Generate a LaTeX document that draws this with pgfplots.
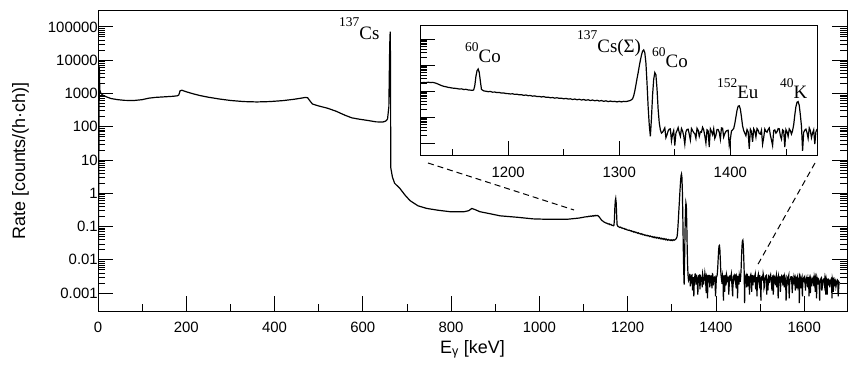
\documentclass[border=0pt]{standalone}
\usepackage{fontspec}
\setmainfont{Liberation Sans}
\newfontfamily\serif{Liberation Serif}
\usepackage{pgfplots}
\usepackage{pgfplotstable}
\pgfplotsset{compat=1.18}

\pgfplotstableread{
E v
0 0.0001
3 6500
4 1300
6 1050
10 900
20 780
30 700
45 650
60 620
80 610
100 650
115 720
130 760
150 790
170 820
180 850
183 900
186 1200
190 1250
200 1120
215 980
230 870
250 770
275 680
300 615
330 570
360 555
390 570
420 610
445 670
460 720
470 760
475 740
480 600
486 480
500 420
520 360
540 290
560 220
575 185
590 170
610 155
630 140
645 138
652 148
656 170
659 400
660 4000
661 30000
662 72000
662.8 8000
663.2 6
667 3.1
672 2.0
684 1.4
695 0.9
707 0.6
725 0.42
745 0.35
770 0.31
797 0.28
830 0.28
840 0.30
847 0.35
855 0.32
865 0.28
890 0.24
911 0.21
950 0.19
986 0.17
1020 0.165
1062 0.165
1090 0.18
1104 0.195
1110 0.198
1112 0.204
1114 0.201
1116 0.207
1118 0.203
1120 0.211
1122 0.206
1124 0.214
1126 0.209
1128 0.217
1130 0.212
1132 0.215
1134 0.205
1136 0.192
1138 0.176
1140 0.162
1142 0.151
1144 0.146
1146 0.138
1148 0.134
1150 0.129
1152 0.127
1154 0.124
1156 0.119
1158 0.121
1160 0.114
1162 0.116
1164 0.110
1166 0.108
1168 0.106
1169 0.110
1170 0.16
1171 0.36
1172 0.60
1173 0.70
1174 0.52
1175 0.24
1176 0.115
1178 0.101
1180 0.098
1182 0.094
1184 0.096
1186 0.090
1188 0.091
1190 0.087
1192 0.088
1194 0.083
1196 0.084
1198 0.080
1200 0.079
1202 0.077
1204 0.078
1206 0.074
1208 0.075
1210 0.071
1212 0.072
1214 0.068
1216 0.070
1218 0.066
1220 0.067
1222 0.063
1224 0.065
1226 0.061
1228 0.062
1230 0.059
1232 0.061
1234 0.057
1236 0.058
1238 0.055
1240 0.056
1242 0.053
1244 0.055
1246 0.052
1248 0.053
1250 0.050
1252 0.052
1254 0.049
1256 0.050
1258 0.047
1260 0.049
1262 0.046
1264 0.048
1266 0.045
1268 0.047
1270 0.044
1272 0.046
1274 0.043
1276 0.045
1278 0.042
1280 0.044
1282 0.041
1284 0.043
1286 0.040
1288 0.042
1290 0.039
1292 0.041
1294 0.039
1296 0.040
1298 0.038
1300 0.040
1302 0.038
1304 0.040
1306 0.039
1308 0.041
1310 0.043
1312 0.050
1313 0.065
1314 0.10
1315 0.17
1316 0.30
1317 0.5
1318 0.9
1319 1.5
1320 2.4
1321 3.4
1322 3.8
1323 3.0
1324 1.2
1325 0.2
1326 0.025
1327 0.005
1328 0.0018
1329 0.009
1330 0.07
1331 0.28
1332 0.51
1333 0.42
1334 0.12
1335 0.02
1336 0.006
1337 0.0032
1338 0.0024
1339 0.0026
1340 0.0031
1341 0.0038
1342 0.0016
1343 0.0021
1344 0.0029
1345 0.0034
1346 0.0035
1347 0.0012
1348 0.0022
1349 0.0030
1350 0.0008
1351 0.0024
1352 0.0030
1353 0.0039
1354 0.0025
1355 0.0018
1356 0.0036
1357 0.0029
1358 0.0019
1359 0.0009
1360 0.0027
1361 0.0033
1362 0.0034
1363 0.0022
1364 0.0013
1365 0.0036
1366 0.0030
1367 0.0025
1368 0.0023
1369 0.0015
1370 0.0037
1371 0.0031
1372 0.0018
1373 0.0027
1374 0.0026
1375 0.0040
1376 0.0032
1377 0.0019
1378 0.0010
1379 0.0032
1380 0.0029
1381 0.0007
1382 0.0035
1383 0.0028
1384 0.0021
1385 0.0035
1386 0.0015
1387 0.0020
1388 0.0033
1389 0.0033
1390 0.0026
1391 0.0014
1392 0.0038
1393 0.0037
1394 0.0017
1395 0.0023
1396 0.0028
1397 0.0030
1398 0.0031
1399 0.0008
1400 0.0014
1401 0.0029
1402 0.0032
1403 0.0036
1404 0.0055
1405 0.010
1406 0.018
1407 0.026
1408 0.027
1409 0.020
1410 0.010
1411 0.0045
1412 0.0030
1413 0.0024
1414 0.0019
1415 0.0033
1416 0.0027
1417 0.0006
1418 0.0034
1419 0.0028
1420 0.0011
1421 0.0035
1422 0.0029
1423 0.0017
1424 0.0036
1425 0.0031
1426 0.0023
1427 0.0022
1428 0.0031
1429 0.0009
1430 0.0016
1431 0.0034
1432 0.0028
1433 0.0026
1434 0.0033
1435 0.0038
1436 0.0020
1437 0.0013
1438 0.0008
1439 0.0030
1440 0.0032
1441 0.0024
1442 0.0027
1443 0.0036
1444 0.0035
1445 0.0019
1446 0.0014
1447 0.0032
1448 0.0029
1449 0.0007
1450 0.0033
1451 0.0027
1452 0.0018
1453 0.0035
1454 0.0030
1455 0.0022
1456 0.0030
1457 0.0050
1458 0.012
1459 0.025
1460 0.037
1461 0.039
1462 0.028
1463 0.012
1464 0.0045
1465 0.0005
1466 0.0026
1467 0.0031
1468 0.0034
1469 0.0025
1470 0.0015
1471 0.0038
1472 0.0030
1473 0.0016
1474 0.0024
1475 0.0032
1476 0.0009
1477 0.0027
1478 0.0033
1479 0.0036
1480 0.0026
1481 0.0011
1482 0.0035
1483 0.0029
1484 0.0017
1485 0.0034
1486 0.0028
1487 0.0021
1488 0.0032
1489 0.0037
1490 0.0013
1491 0.0025
1492 0.0030
1493 0.0008
1494 0.0022
1495 0.0031
1496 0.0036
1497 0.0023
1498 0.0019
1499 0.0035
1500 0.0027
1501 0.0018
1502 0.0006
1503 0.0030
1504 0.0031
1505 0.0026
1506 0.0025
1507 0.0039
1508 0.0033
1509 0.0014
1510 0.0016
1511 0.0028
1512 0.0029
1513 0.0033
1514 0.0034
1515 0.0009
1516 0.0021
1517 0.0024
1518 0.0012
1519 0.0036
1520 0.0030
1521 0.0020
1522 0.0026
1523 0.0031
1524 0.0035
1525 0.0027
1526 0.0018
1527 0.0012
1528 0.0028
1529 0.0034
1530 0.0009
1531 0.0022
1532 0.0032
1533 0.0030
1534 0.0024
1535 0.0017
1536 0.0030
1537 0.0035
1538 0.0015
1539 0.0024
1540 0.0027
1541 0.0007
1542 0.0033
1543 0.0029
1544 0.0020
1545 0.0032
1546 0.0011
1547 0.0019
1548 0.0029
1549 0.0033
1550 0.0031
1551 0.0021
1552 0.0017
1553 0.0036
1554 0.0026
1555 0.0015
1556 0.0032
1557 0.0028
1558 0.0021
1559 0.0006
1560 0.0013
1561 0.0030
1562 0.0028
1563 0.0023
1564 0.0030
1565 0.0034
1566 0.0007
1567 0.0018
1568 0.0025
1569 0.0027
1570 0.0031
1571 0.0031
1572 0.0019
1573 0.0010
1574 0.0027
1575 0.0025
1576 0.0022
1577 0.0033
1578 0.0030
1579 0.0020
1580 0.0012
1581 0.0029
1582 0.0026
1583 0.0014
1584 0.0029
1585 0.0032
1586 0.0018
1587 0.0022
1588 0.0025
1589 0.0005
1590 0.0030
1591 0.0026
1592 0.0014
1593 0.0030
1594 0.0027
1595 0.0017
1596 0.0008
1597 0.0028
1598 0.0024
1599 0.0023
1600 0.0029
1601 0.0031
1602 0.0019
1603 0.0012
1604 0.0026
1605 0.0027
1606 0.0030
1607 0.0020
1608 0.0015
1609 0.0030
1610 0.0024
1611 0.0008
1612 0.0028
1613 0.0025
1614 0.0010
1615 0.0029
1616 0.0026
1617 0.0016
1618 0.0022
1619 0.0027
1620 0.0029
1621 0.0022
1622 0.0016
1623 0.0030
1624 0.0025
1625 0.0011
1626 0.0028
1627 0.0024
1628 0.0007
1629 0.0028
1630 0.0024
1631 0.0018
1632 0.0027
1633 0.0026
1634 0.0019
1635 0.0006
1636 0.0023
1637 0.0023
1638 0.0028
1639 0.0029
1640 0.0012
1641 0.0015
1642 0.0024
1643 0.0025
1644 0.0026
1645 0.0021
1646 0.0017
1647 0.0028
1648 0.0023
1649 0.0009
1650 0.0027
1651 0.0023
1652 0.0009
1653 0.0027
1654 0.0022
1655 0.0017
1656 0.0025
1657 0.0024
1658 0.0015
1659 0.0020
1660 0.0024
1661 0.0026
1662 0.0020
1663 0.0007
1664 0.0026
1665 0.0022
1666 0.0011
1667 0.0025
1668 0.0023
1669 0.0016
1670 0.0025
1671 0.0023
1672 0.0016
1673 0.0019
1674 0.0022
1675 0.0025
1676 0.0024
1677 0.0008
1678 0.0013
1679 0.0021
1680 0.0020
}\spec

\begin{document}
\begin{tikzpicture}
\useasboundingbox (0,0) rectangle (858bp,370bp);
\begin{axis}[
  scale only axis, anchor=south west,
  at={(98bp,59bp)}, width=749bp, height=300bp,
  ymode=log,
  xmin=0, xmax=1697, ymin=2.9e-4, ymax=3e5,
  major tick length=15bp, minor tick length=7bp,
  tick style={line width=0.8bp, black},
  axis line style={line width=1bp},
  tick label style={font=\fontsize{15}{15}\selectfont, inner sep=0pt},
  xticklabel style={yshift=-11bp},
  xtick={0,200,400,600,800,1000,1200,1400,1600},
  xticklabels={0,200,400,600,800,1000,1200,1400,1600},
  minor xtick={100,300,500,700,900,1100,1300,1500},
  xtick pos=left,
  ytick={1e-3,1e-2,1e-1,1,10,100,1000,1e4,1e5},
  yticklabels={0.001\hspace{9bp},0.01\hspace{9bp},0.1\hspace{9bp},1\hspace{9bp},10\hspace{9bp},100\hspace{9bp},1000\hspace{9bp},10000\hspace{9bp},100000\hspace{9bp}},
]
\addplot[black, line width=1.2bp] table[x=E, y=v] {\spec};
\end{axis}

\begin{axis}[
  scale only axis, anchor=south west,
  at={(420bp,214bp)}, width=397bp, height=130bp,
  ymode=log,
  xmin=1120.7, xmax=1478, ymin=3.16e-4, ymax=31.6,
  major tick length=15bp, minor tick length=7bp,
  tick style={line width=0.8bp, black},
  axis line style={line width=1bp},
  tick label style={font=\fontsize{15}{15}\selectfont, inner sep=0pt},
  xticklabel style={yshift=-11bp},
  axis background/.style={fill=white},
  xtick={1200,1300,1400}, xticklabels={1200,1300,1400},
  minor xtick={1150,1250,1350,1450},
  xtick pos=left, ytick pos=left,
  ytick={1e-3,1e-2,1e-1,1,10}, yticklabels={},
]
\addplot[black, line width=1.2bp] table[x=E, y=v] {\spec};
\end{axis}

\draw[black, line width=1bp, dash pattern=on 6bp off 4bp] (428bp,207bp) -- (574bp,160bp);
\draw[black, line width=1bp, dash pattern=on 6bp off 4bp] (815bp,207bp) -- (757bp,104bp);

\node[inner sep=0pt, anchor=base, font=\fontsize{18}{18}\selectfont] at (472.5bp,17bp) {E\textsubscript{γ} [keV]};
\node[inner sep=0pt, anchor=base, rotate=90, font=\fontsize{18}{18}\selectfont] at (25bp,209bp) {Rate [counts/(h·ch)]};

\begin{scope}[every node/.style={inner sep=0pt, anchor=base west, font=\serif\fontsize{19}{19}\selectfont}]
\node at (339bp,330bp) {\raisebox{13bp}{\fontsize{13.5}{13}\selectfont 137}Cs};
\node at (465bp,307bp) {\raisebox{11bp}{\fontsize{13.5}{13}\selectfont 60}Co};
\node at (577bp,317bp) {\raisebox{13bp}{\fontsize{13.5}{13}\selectfont 137}Cs(Σ)};
\node at (652bp,302bp) {\raisebox{11bp}{\fontsize{13.5}{13}\selectfont 60}Co};
\node at (717bp,271bp) {\raisebox{11bp}{\fontsize{13.5}{13}\selectfont 152}Eu};
\node at (780bp,271bp) {\raisebox{11bp}{\fontsize{13.5}{13}\selectfont 40}K};
\end{scope}
\end{tikzpicture}
\end{document}
